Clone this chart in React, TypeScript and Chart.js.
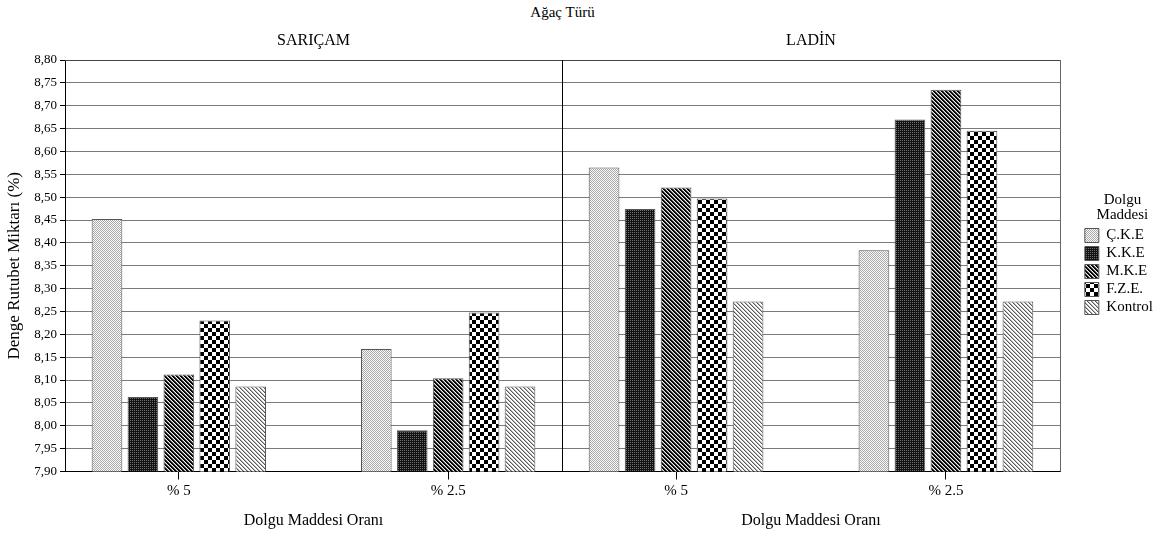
import React, { useEffect, useRef } from 'react';
import { Chart, registerables } from 'chart.js';

Chart.register(...registerables);
Chart.defaults.font.family = '"Liberation Serif", "Times New Roman", serif';
Chart.defaults.color = '#000';

// ---------- data ----------
const TITLE = 'Ağaç Türü';
const PANELS = ['SARIÇAM', 'LADİN'];
const CATEGORIES = ['% 5', '% 2.5'];
const SERIES = ['Ç.K.E', 'K.K.E', 'M.K.E', 'F.Z.E.', 'Kontrol'];
// order: SARIÇAM %5, SARIÇAM %2.5, LADİN %5, LADİN %2.5
const CKE = [8.452, 8.168, 8.565, 8.384];
const KKE = [8.063, 7.99, 8.474, 8.67];
const MKE = [8.112, 8.104, 8.521, 8.735];
const FZE = [8.23, 8.248, 8.497, 8.645];
const KONTROL = [8.086, 8.086, 8.272, 8.272];
const Y_MIN = 7.9;
const Y_MAX = 8.8;
const Y_STEP = 0.05;
const X_AXIS_TITLE = 'Dolgu Maddesi Oranı';
const Y_AXIS_TITLE = 'Denge Rutubet Miktarı (%)';
const LEGEND_TITLE = ['Dolgu', 'Maddesi'];

// ---------- layout constants ----------
const W = 1168;
const H = 533;
const LEFT_W = 562;
const RIGHT_W = W - LEFT_W;
const RIGHT_PLOT_W = 498;
const LEGEND_PAD_R = 5;
const X_EDGE = 0.4227;
const FONT = '"Liberation Serif", "Times New Roman", serif';

function makePattern(size: number, paint: (x: number, y: number) => string) {
  const c = document.createElement('canvas');
  c.width = size;
  c.height = size;
  const g = c.getContext('2d')!;
  for (let y = 0; y < size; y++) {
    for (let x = 0; x < size; x++) {
      g.fillStyle = paint(x, y);
      g.fillRect(x, y, 1, 1);
    }
  }
  return g.createPattern(c, 'repeat')!;
}

function makePatterns() {
  const diag = (x: number, y: number) => (((x - y) % 4) + 4) % 4;
  return [
    makePattern(2, (x, y) => ((x + y) % 2 === 0 ? '#a9a9a9' : '#fafafa')),
    makePattern(2, (x, y) => (x === 0 && y === 0 ? '#707070' : '#121212')),
    makePattern(4, (x, y) => {
      const d = diag(x, y);
      return d < 2 ? '#050505' : d === 2 ? '#7a7a7a' : '#efefef';
    }),
    makePattern(8, (x, y) => ((Math.floor(x / 4) + Math.floor(y / 4)) % 2 === 0 ? '#000' : '#fff')),
    makePattern(4, (x, y) => {
      const d = diag(x, y);
      return d === 0 ? '#5a5a5a' : d === 1 ? '#b5b5b5' : '#ffffff';
    }),
  ];
}

const framePlugin = {
  id: 'frame',
  afterDatasetsDraw(chart: any, _args: any, opts: any) {
    const { ctx, chartArea: a } = chart;
    const al = (v: number) => Math.round(v - 0.5) + 0.5;
    ctx.save();
    ctx.lineWidth = 1;
    ctx.strokeStyle = '#444';
    ctx.beginPath();
    ctx.moveTo(a.left, al(a.top));
    ctx.lineTo(a.right, al(a.top));
    ctx.stroke();
    if (opts && opts.sides) {
      ctx.strokeStyle = '#000';
      ctx.beginPath();
      ctx.moveTo(al(a.left), a.top);
      ctx.lineTo(al(a.left), a.bottom);
      ctx.stroke();
      ctx.strokeStyle = '#666';
      ctx.beginPath();
      ctx.moveTo(al(a.right), a.top);
      ctx.lineTo(al(a.right), a.bottom);
      ctx.stroke();
    }
    ctx.restore();
  },
};

function makeChart(canvas: HTMLCanvasElement, p: number) {
  const isLeft = p === 0;
  const patterns = makePatterns();
  const seriesValues = [CKE, KKE, MKE, FZE, KONTROL];
  const datasets = SERIES.map((name, s) => ({
    label: name,
    data: CATEGORIES.map((_, i) => ({ x: i, y: seriesValues[s][p * CATEGORIES.length + i] })),
    backgroundColor: patterns[s],
    borderColor: '#555',
    borderWidth: 1,
    categoryPercentage: 0.667,
    barPercentage: 0.853,
  }));

  const scales: any = {
    x: {
      type: 'linear',
      bounds: 'data',
      offset: false,
      min: -X_EDGE,
      max: CATEGORIES.length - 1 + X_EDGE,
      afterBuildTicks: (s: any) => {
        s.ticks = CATEGORIES.map((_, i) => ({ value: i }));
      },
      ticks: {
        callback: (v: any) => CATEGORIES[Math.round(Number(v))],
        font: { size: 15 },
        color: '#000',
        padding: 3,
        maxRotation: 0,
        autoSkip: false,
      },
      grid: {
        offset: false,
        drawOnChartArea: false,
        drawTicks: true,
        tickLength: 8,
        tickColor: '#000',
        color: '#000',
      },
      border: { display: true, color: '#000', width: 1 },
      title: {
        display: true,
        text: X_AXIS_TITLE,
        font: { size: 16 },
        color: '#000',
        padding: { top: 7.9, bottom: 0 },
      },
    },
    y: {
      type: 'linear',
      position: 'left',
      min: Y_MIN,
      max: Y_MAX,
      beginAtZero: false,
      ticks: {
        display: isLeft,
        stepSize: Y_STEP,
        callback: (v: any) => Number(v).toFixed(2).replace('.', ','),
        font: { size: 13 },
        color: '#000',
        padding: 3,
      },
      grid: {
        color: '#7a7a7a',
        tickColor: '#000',
        tickLength: 5,
        drawTicks: isLeft,
      },
      border: { display: isLeft, color: '#000', width: 1 },
      title: {
        display: isLeft,
        text: Y_AXIS_TITLE,
        font: { size: 17 },
        color: '#000',
        padding: { top: 4.8, bottom: 0 },
      },
      afterFit: (s: any) => {
        s.width = isLeft ? 65 : 0;
      },
    },
  };

  if (!isLeft) {
    scales.ySpacer = {
      axis: 'y',
      type: 'linear',
      position: 'right',
      display: true,
      grid: { display: false, drawTicks: false },
      ticks: { display: false },
      border: { display: false },
      afterFit: (s: any) => {
        const lw = s.chart.legend ? s.chart.legend.width : 0;
        s.width = Math.max(0, s.chart.width - LEGEND_PAD_R - lw - RIGHT_PLOT_W);
      },
    };
  }

  return new Chart(canvas, {
    type: 'bar',
    data: { datasets: datasets as any },
    plugins: [framePlugin as any],
    options: {
      responsive: false,
      animation: false,
      devicePixelRatio: 1,
      events: [],
      layout: {
        padding: { left: 0, top: 0, bottom: 2.4, right: isLeft ? 0 : LEGEND_PAD_R },
      },
      scales,
      plugins: {
        frame: { sides: !isLeft },
        tooltip: { enabled: false },
        title: {
          display: true,
          text: PANELS[p],
          fullSize: false,
          font: { size: 16, weight: 'normal' },
          color: '#000',
          padding: { top: 31.4, bottom: 9.4 },
        },
        legend: {
          display: !isLeft,
          position: 'right',
          align: 'start',
          title: {
            display: true,
            text: LEGEND_TITLE,
            position: 'center',
            color: '#000',
            font: { size: 15, lineHeight: 1.0 },
            padding: { top: 192.5, bottom: 17.5 },
          },
          labels: {
            boxWidth: 14,
            boxHeight: 14,
            padding: 3,
            color: '#000',
            font: { size: 15 },
          },
        },
      } as any,
    } as any,
  });
}

export default function App() {
  const leftRef = useRef<HTMLCanvasElement>(null);
  const rightRef = useRef<HTMLCanvasElement>(null);

  useEffect(() => {
    const charts = [makeChart(leftRef.current!, 0), makeChart(rightRef.current!, 1)];
    return () => charts.forEach((c) => c.destroy());
  }, []);

  return (
    <div
      style={{
        position: 'absolute',
        left: 0,
        top: 0,
        width: W,
        height: H,
        background: '#fff',
        overflow: 'hidden',
      }}
    >
      <div
        style={{
          position: 'absolute',
          left: 0,
          top: 3,
          width: 1125,
          textAlign: 'center',
          fontFamily: FONT,
          fontSize: 15,
          lineHeight: '19px',
          color: '#000',
        }}
      >
        {TITLE}
      </div>
      <canvas
        ref={leftRef}
        width={LEFT_W}
        height={H}
        style={{ position: 'absolute', left: 0, top: 0, display: 'block' }}
      />
      <canvas
        ref={rightRef}
        width={RIGHT_W}
        height={H}
        style={{ position: 'absolute', left: LEFT_W, top: 0, display: 'block' }}
      />
    </div>
  );
}
